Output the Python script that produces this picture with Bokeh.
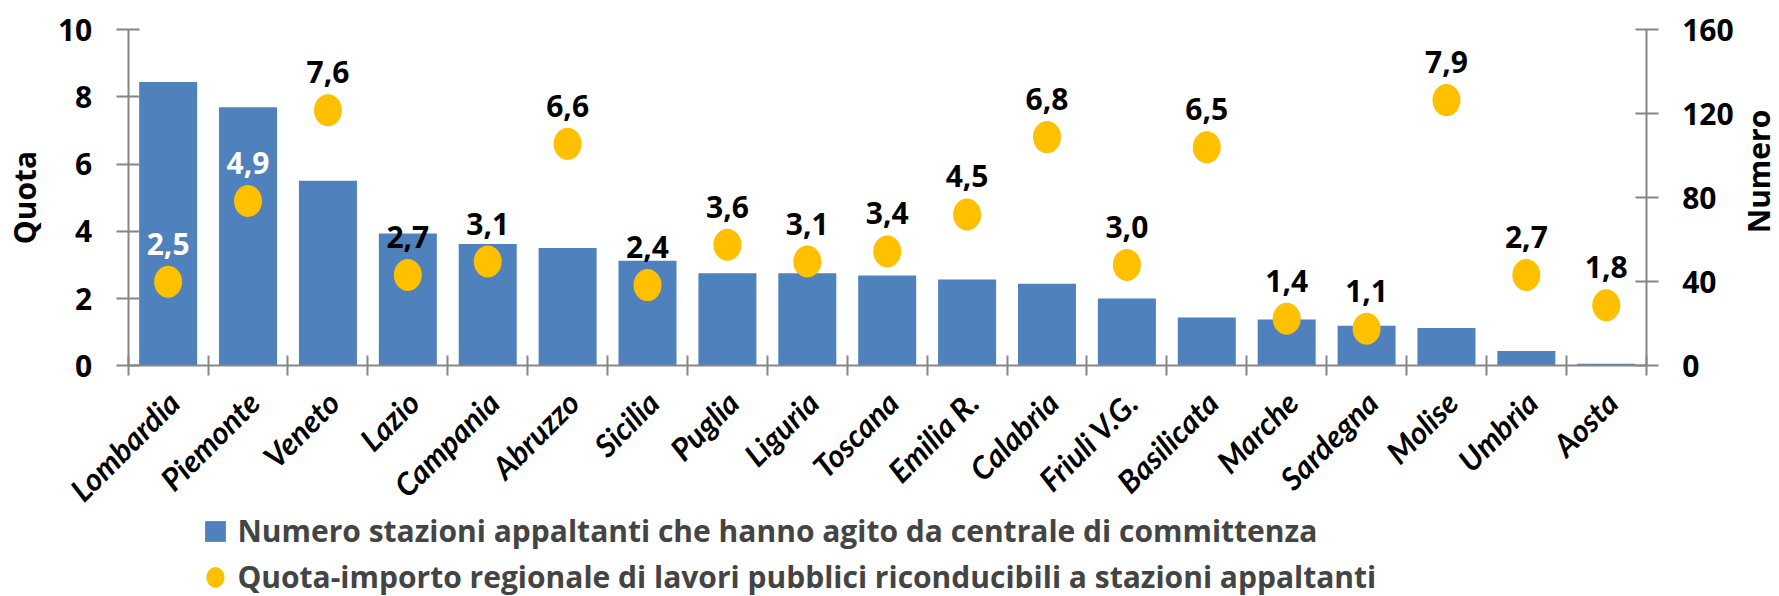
import math
from bokeh.plotting import figure
from bokeh.models import (Range1d, LinearAxis, FixedTicker, ColumnDataSource,
                          Legend, LegendItem, Label, CustomLabelingPolicy)
from bokeh.core.properties import value
from bokeh.embed import file_html
from bokeh.resources import INLINE

# ---------------- data ----------------
regions = ["Lombardia", "Piemonte", "Veneto", "Lazio", "Campania", "Abruzzo",
           "Sicilia", "Puglia", "Liguria", "Toscana", "Emilia R.", "Calabria",
           "Friuli V.G.", "Basilicata", "Marche", "Sardegna", "Molise",
           "Umbria", "Aosta"]
numero = [135, 123, 88, 63, 58, 56, 50, 44, 44, 43, 41, 39, 32, 23, 22, 19, 18, 7, 1]
quota = [2.5, 4.9, 7.6, 2.7, 3.1, 6.6, 2.4, 3.6, 3.1, 3.4, 4.5, 6.8, 3.0, 6.5,
         1.4, 1.1, 7.9, 2.7, 1.8]
quota_ticks = [0, 2, 4, 6, 8, 10]
numero_ticks = [0, 40, 80, 120, 160]
series_numero = "Numero stazioni appaltanti che hanno agito da centrale di committenza"
series_quota = "Quota-importo regionale di lavori pubblici riconducibili a stazioni appaltanti"
axis_left_title = "Quota"
axis_right_title = "Numero"

# ---------------- layout / style ----------------
W, H = 1779, 596
PLOT_L, PLOT_R = 127.7, 1645.7     # pixel x of the two value axes
PLOT_T, PLOT_B = 29.0, 365.3       # pixel y of the top tick and of zero
FONT = "Open Sans"
CAT_FONT = "Lato"
BLUE = "#4F81BD"
GOLD = "#FFC000"
AXIS = "#868686"
FS = "30px"
LABEL_SHIFT = 0.07

n = len(regions)
centers = [i + 0.5 for i in range(n)]
label_pos = [c + LABEL_SHIFT for c in centers]
q_max, n_max = quota_ticks[-1], numero_ticks[-1]
ratio = n_max / q_max
labels = [f"{v:.1f}".replace(".", ",") for v in quota]
label_colors = ["white" if nb / ratio > q + 1.7 else "black" for nb, q in zip(numero, quota)]

xs = (PLOT_R - PLOT_L) / n
ys = (PLOT_B - PLOT_T) / q_max
x_range = Range1d(-PLOT_L / xs, (W - PLOT_L) / xs)
y_lo, y_hi = -(H - PLOT_B) / ys, PLOT_B / ys
y_range = Range1d(y_lo, y_hi)

src = ColumnDataSource(dict(x=centers, numero=numero, quota=quota,
                            label=labels, color=label_colors))

p = figure(width=W, height=H, x_range=x_range, y_range=y_range,
           x_axis_location=None, y_axis_location=None,
           output_backend="svg", toolbar_location=None, min_border=0,
           outline_line_color=None, background_fill_color="white")
p.extra_y_ranges = {"num": Range1d(y_lo * ratio, y_hi * ratio)}
p.grid.visible = False

bars = p.vbar(x="x", top="numero", width=0.726, source=src, y_range_name="num",
              fill_color=BLUE, line_color=None)
dots = p.ellipse(x="x", y="quota", width=28, height=32, width_units="screen",
                 height_units="screen", source=src, fill_color=GOLD, line_color=None)
p.text(x="x", y="quota", text="label", text_color="color", source=src,
       text_align="center", text_baseline="alphabetic", y_offset=-38,
       text_font=value(FONT), text_font_style="bold", text_font_size=FS)

def style_axis(ax):
    ax.axis_line_color = AXIS
    ax.axis_line_width = 2
    ax.major_tick_line_color = AXIS
    ax.major_tick_line_width = 2
    ax.minor_tick_line_color = None
    ax.major_label_text_font = FONT
    ax.major_label_text_font_style = "bold"
    ax.major_label_text_font_size = FS
    ax.major_label_text_color = "black"

# x axis: ticks on category boundaries, no labels
xa = LinearAxis(fixed_location=0, bounds=(0, n), ticker=FixedTicker(ticks=list(range(n + 1))))
style_axis(xa)
xa.major_tick_in = 10
xa.major_tick_out = 10
xa.major_label_standoff = 0
xa.major_label_policy = CustomLabelingPolicy(code="""
    for (const i of indices)
        indices.unset(i)
    return indices
""")
p.add_layout(xa, "below")

# category labels
lab = LinearAxis(fixed_location=0, ticker=FixedTicker(ticks=label_pos),
                 major_label_overrides={c: r for c, r in zip(label_pos, regions)})
style_axis(lab)
lab.axis_line_color = None
lab.major_tick_line_color = None
lab.major_tick_in = 0
lab.major_tick_out = 0
lab.major_label_orientation = math.pi / 4
lab.major_label_text_font = CAT_FONT
lab.major_label_text_font_style = "bold italic"
lab.major_label_text_font_size = "31px"
lab.major_label_standoff = 31
p.add_layout(lab, "below")

# left axis (Quota)
ya = LinearAxis(fixed_location=0, bounds=(0, q_max), ticker=FixedTicker(ticks=quota_ticks))
style_axis(ya)
ya.major_tick_in = 11
ya.major_tick_out = 12
ya.major_label_standoff = 24
p.add_layout(ya, "left")

# right axis (Numero)
ra = LinearAxis(y_range_name="num", fixed_location=n, bounds=(0, n_max),
                ticker=FixedTicker(ticks=numero_ticks))
style_axis(ra)
ra.major_tick_in = 11
ra.major_tick_out = 12
ra.major_label_standoff = 24
p.add_layout(ra, "right")

for txt, sx, sy in [(axis_left_title, 24, H - 197), (axis_right_title, 1758, H - 171)]:
    p.add_layout(Label(x=sx, y=sy, x_units="screen", y_units="screen", text=txt,
                       angle=math.pi / 2, text_align="center", text_baseline="middle",
                       text_font=FONT, text_font_style="bold", text_font_size=FS,
                       text_color="black"))

legend = Legend(items=[LegendItem(label=series_numero, renderers=[bars]),
                       LegendItem(label=series_quota, renderers=[dots])],
                location=(202.4, -1.3), orientation="vertical", padding=0, margin=0,
                spacing=5, glyph_width=26, glyph_height=26, label_standoff=9,
                label_height=26, label_text_font=FONT, label_text_font_style="bold",
                label_text_font_size=FS, background_fill_alpha=0,
                border_line_color=None)
p.add_layout(legend)

open("out.html", "w").write(file_html(p, INLINE))
